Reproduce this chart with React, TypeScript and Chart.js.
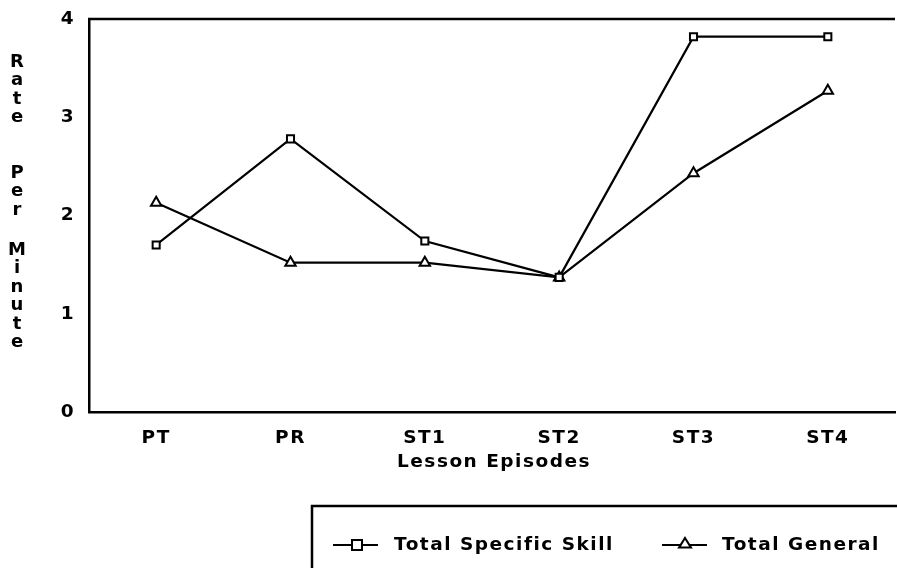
import { useEffect, useRef } from "react";
import { Chart, registerables } from "chart.js";

Chart.register(...registerables);

const categories = ["PT", "PR", "ST1", "ST2", "ST3", "ST4"];
const specificSkill = [1.7, 2.78, 1.74, 1.37, 3.82, 3.82];
const totalGeneral = [2.13, 1.52, 1.52, 1.37, 2.43, 3.27];
const yTickValues = [0, 1, 2, 3, 4];
const yTitleWords = ["Rate", "Per", "Minute"];
const xTitle = "Lesson Episodes";
const seriesNames = ["Total Specific Skill", "Total General"];

const FONT = '"DejaVu Sans", "Liberation Sans", sans-serif';
const SPACING = "1.5px";
const FSIZE = 18.5;

function drawSquare(ctx: CanvasRenderingContext2D, x: number, y: number, r: number) {
  ctx.beginPath();
  ctx.rect(x - r, y - r, 2 * r, 2 * r);
  ctx.fillStyle = "#fff";
  ctx.fill();
  ctx.stroke();
}

function drawTriangle(ctx: CanvasRenderingContext2D, x: number, y: number, r: number) {
  ctx.beginPath();
  ctx.moveTo(x, y - r);
  ctx.lineTo(x + r, y + r * 0.6);
  ctx.lineTo(x - r, y + r * 0.6);
  ctx.closePath();
  ctx.fillStyle = "#fff";
  ctx.fill();
  ctx.stroke();
}

const decorPlugin = {
  id: "decor",
  beforeUpdate(chart: any) {
    (chart.ctx as any).letterSpacing = SPACING;
  },
  beforeDraw(chart: any) {
    const ctx = chart.ctx;
    (ctx as any).letterSpacing = SPACING;
    ctx.save();
    ctx.fillStyle = "#fff";
    ctx.fillRect(0, 0, chart.width, chart.height);
    ctx.restore();
  },
  afterDraw(chart: any) {
    const ctx: CanvasRenderingContext2D = chart.ctx;
    const area = chart.chartArea;
    ctx.save();
    ctx.strokeStyle = "#000";
    ctx.lineWidth = 2.5;
    // top frame line
    ctx.beginPath();
    ctx.moveTo(area.left - 1, area.top);
    ctx.lineTo(area.right, area.top);
    ctx.stroke();

    // vertical stacked y title
    ctx.fillStyle = "#000";
    ctx.font = `bold 18px ${FONT}`;
    ctx.textAlign = "center";
    ctx.textBaseline = "middle";
    (ctx as any).letterSpacing = "0px";
    const wordStarts = [62, 173, 250];
    const step = 18.5;
    yTitleWords.forEach((w, wi) => {
      w.split("").forEach((ch, ci) => {
        ctx.fillText(ch, 17, wordStarts[wi] + ci * step);
      });
    });

    // x title
    (ctx as any).letterSpacing = SPACING;
    ctx.font = `bold ${FSIZE}px ${FONT}`;
    ctx.fillText(xTitle, 494, 462);

    // legend box
    ctx.lineWidth = 2.5;
    ctx.beginPath();
    ctx.moveTo(312, 570);
    ctx.lineTo(312, 506);
    ctx.lineTo(900, 506);
    ctx.stroke();

    const ly = 545;
    ctx.lineWidth = 2;
    ctx.beginPath();
    ctx.moveTo(333, ly);
    ctx.lineTo(378, ly);
    ctx.stroke();
    drawSquare(ctx, 357, ly, 5);
    ctx.beginPath();
    ctx.moveTo(662, ly);
    ctx.lineTo(707, ly);
    ctx.stroke();
    drawTriangle(ctx, 685, ly - 1, 6);

    ctx.fillStyle = "#000";
    ctx.textAlign = "left";
    ctx.font = `bold ${FSIZE}px ${FONT}`;
    ctx.fillText(seriesNames[0], 394, ly);
    ctx.fillText(seriesNames[1], 722, ly);
    ctx.restore();
  },
};

export default function App() {
  const canvasRef = useRef<HTMLCanvasElement | null>(null);

  useEffect(() => {
    const canvas = canvasRef.current;
    if (!canvas) return;
    const chart = new Chart(canvas, {
      type: "line",
      data: {
        labels: categories,
        datasets: [
          {
            label: seriesNames[0],
            data: specificSkill,
            borderColor: "#000",
            borderWidth: 2.2,
            backgroundColor: "#fff",
            pointStyle: "rect",
            pointRadius: 5,
            pointBorderWidth: 2,
            pointBackgroundColor: "#fff",
            pointBorderColor: "#000",
            tension: 0,
          },
          {
            label: seriesNames[1],
            data: totalGeneral,
            borderColor: "#000",
            borderWidth: 2.2,
            backgroundColor: "#fff",
            pointStyle: "triangle",
            pointRadius: 6,
            pointBorderWidth: 2,
            pointBackgroundColor: "#fff",
            pointBorderColor: "#000",
            tension: 0,
          },
        ],
      },
      options: {
        responsive: false,
        animation: false,
        layout: { padding: { top: 19, left: 0, right: 0, bottom: 0 } },
        plugins: {
          legend: { display: false },
          tooltip: { enabled: false },
          title: { display: false },
        },
        scales: {
          x: {
            type: "category",
            offset: true,
            grid: { display: false, drawTicks: false },
            border: { display: true, color: "#000", width: 2.5 },
            ticks: {
              color: "#000",
              font: { family: FONT, size: FSIZE, weight: "bold" },
              padding: 15,
              maxRotation: 0,
              autoSkip: false,
            },
            afterFit: (scale: any) => {
              scale.height = 156;
              scale.paddingLeft = 0;
              scale.paddingRight = 0;
            },
          },
          y: {
            min: 0,
            max: 4,
            afterBuildTicks: (scale: any) => {
              scale.ticks = yTickValues.map((v) => ({ value: v }));
            },
            grid: { display: false, drawTicks: false },
            border: { display: true, color: "#000", width: 2.5 },
            ticks: {
              color: "#000",
              font: { family: FONT, size: FSIZE, weight: "bold" },
              padding: 14,
            },
            afterFit: (scale: any) => {
              scale.width = 89;
              scale.paddingTop = 0;
              scale.paddingBottom = 0;
            },
          },
        },
      },
      plugins: [decorPlugin],
    });
    return () => chart.destroy();
  }, []);

  return (
    <div
      style={{
        position: "fixed",
        left: 0,
        top: 0,
        width: 897,
        height: 568,
        overflow: "hidden",
        background: "#fff",
      }}
    >
      <canvas
        ref={canvasRef}
        width={903}
        height={568}
        style={{ display: "block", width: 903, height: 568 }}
      />
    </div>
  );
}
